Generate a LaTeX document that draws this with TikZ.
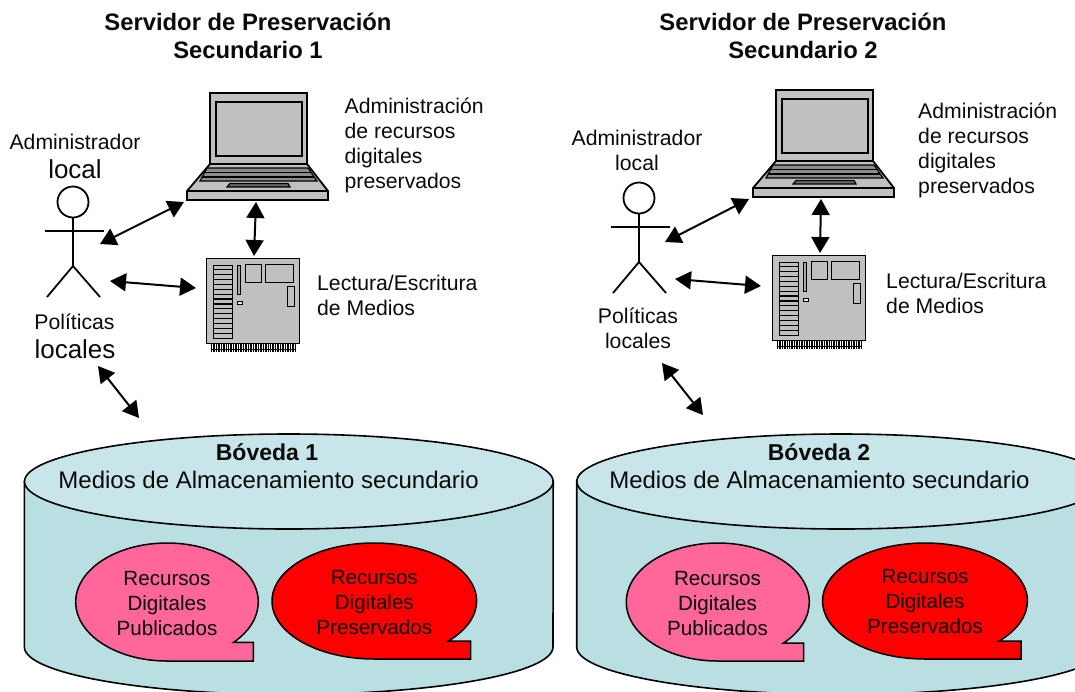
\documentclass[tikz,border=0pt]{standalone}
\usepackage{fontspec}
\setmainfont{Liberation Sans}
\usetikzlibrary{arrows.meta}
\definecolor{cylbody}{HTML}{B9DFE3}
\definecolor{cyltop}{HTML}{C8E6E9}
\definecolor{pinkb}{HTML}{FF6699}
\definecolor{redb}{HTML}{FF0000}
\definecolor{devgray}{HTML}{C0C0C0}
\definecolor{txt}{HTML}{0A0A0A}
\tikzset{
  lbl/.style={inner sep=0pt,align=center,text=txt,font=\fontsize{21.2}{25}\selectfont},
  lblleft/.style={inner sep=0pt,align=left,text=txt,font=\fontsize{21.2}{25}\selectfont},
  lblbig/.style={inner sep=0pt,text=txt,font=\fontsize{26}{28}\selectfont},
  ttl/.style={inner sep=0pt,align=center,text=txt,font=\fontsize{23.8}{28}\selectfont\bfseries},
  vault/.style={inner sep=0pt,text=txt,font=\fontsize{23}{26}\selectfont\bfseries},
  media/.style={inner sep=0pt,text=txt,font=\fontsize{24}{26}\selectfont},
  res/.style={inner sep=0pt,align=center,text=txt,font=\fontsize{20.6}{25}\selectfont},
  dev/.style={draw=black,line width=1.8pt,fill=devgray},
  devthin/.style={draw=black,line width=1pt,fill=devgray},
  stick/.style={draw=black,line width=1.8pt},
  dbl/.style={draw=black,line width=2pt,{Triangle[length=16pt,width=18pt]}-{Triangle[length=16pt,width=18pt]}},
  cyl/.style={draw=black,line width=1.6pt},
  bub/.style={draw=black,line width=1.5pt,line join=miter},
}
\newcommand\laptopdraw[3]{%
 \begin{scope}[shift={(#1,#2)}]
  \coordinate (#3) at (258,146);
  \draw[dev] (210,164) -- (187,191) -- (187,200) -- (328,200) -- (328,191) -- (307,164) -- cycle;
  \draw[dev] (187,191) -- (328,191);
  \draw[dev,line width=2pt] (210,93) rectangle (307,164);
  \draw[dev,line width=2pt] (216,102) rectangle (302,156);
  \draw[draw=black,fill=black!45,line width=1.2pt] (207,168) -- (308,168) -- (317,181) -- (200,181) -- cycle;
  \draw[black,line width=1.3pt] (204,172.5) -- (311,172.5) (202,177) -- (314,177);
  \draw[draw=black,fill=black!60,line width=1.2pt] (230,183.5) -- (288,183.5) -- (290,187) -- (227,187) -- cycle;
 \end{scope}}
\newcommand\serverdraw[3]{%
 \begin{scope}[shift={(#1,#2)}]
  \coordinate (#3) at (252,300);
  \foreach \i in {0,...,50} {\draw[black,line width=.9pt] ({211.5+\i*1.68},343) -- ++(0,9);}
  \draw[black,line width=1pt] (211,349) -- (296,349);
  \draw[devthin] (206,258) rectangle (299,343);
  \draw[devthin,fill=black!25] (213,265) rectangle (232,338);
  \foreach \i in {1,...,14} {\draw[black,line width=1.2pt] (213,{265+\i*4.87}) -- (232,{265+\i*4.87});}
  \draw[devthin,fill=black!35] (237.5,265) rectangle (240.5,294);
  \draw[devthin] (245,264) rectangle (261,282);
  \draw[devthin] (265,264) rectangle (293,282);
  \draw[devthin] (287,286) rectangle (294,306);
  \draw[devthin,fill=white!70!devgray] (237.5,301) rectangle (242,304.5);
 \end{scope}}
\newcommand\stickdraw[3]{%
 \begin{scope}[shift={(#1,#2)}]
  \node[circle,draw=black,line width=1.8pt,minimum size=31pt,inner sep=0pt] (#3) at (73,202) {};
  \coordinate (#3hip) at (73,266);
  \coordinate (#3la) at (45,231); \coordinate (#3ra) at (104,231);
  \coordinate (#3ll) at (47,297); \coordinate (#3rl) at (100,297);
  \draw[stick] (#3.south) -- (#3hip);
  \draw[stick] (#3la) -- (#3ra);
  \draw[stick] (#3ll) -- (#3hip) -- (#3rl);
 \end{scope}}
\newcommand\cyldraw[2]{%
 \begin{scope}[shift={(#1,0)}]
  \coordinate (#2) at (288.8,600);
  \draw[cyl,fill=cylbody] (24.4,481.5) -- (24.4,647) arc[start angle=180,end angle=0,x radius=264.3,y radius=47.5] -- (553.2,481.5) -- cycle;
  \draw[cyl,fill=cyltop] (288.8,481.5) ellipse[x radius=264.3,y radius=47.5];
 \end{scope}}
\newcommand\bubbledraw[7]{%
 \pgfmathsetmacro\tA{360+acos((#5-#1)/#3)}
 \pgfmathsetmacro\yA{#2+#4*sin(\tA)}
 \draw[bub,fill=#7] (#1,{#2+#4}) arc[start angle=90,end angle=\tA,x radius=#3,y radius=#4] -- (#6,\yA) -- (#6,{#2+#4}) -- cycle;}
\begin{document}
\begin{tikzpicture}[x=1pt,y=-1pt]
\path[use as bounding box] (0,0) rectangle (1075,691);
\clip (0,0) rectangle (1075,691);
\fill[white] (0,0) rectangle (1075,691);

% cylinders
\cyldraw{0}{cylA}
\cyldraw{552.3}{cylB}
\bubbledraw{167}{602}{91.3}{59}{233.5}{253.4}{pinkb}
\bubbledraw{374.3}{601}{102.3}{58}{448.3}{470.7}{redb}
\bubbledraw{717.8}{602}{91.5}{59}{783.6}{803.6}{pinkb}
\bubbledraw{925}{601}{102.4}{58}{998.8}{1021.2}{redb}

% devices
\laptopdraw{0}{0}{lapA}
\laptopdraw{566}{-3}{lapB}
\serverdraw{0}{0}{srvA}
\serverdraw{566}{-3}{srvB}
\stickdraw{0}{0}{manA}
\stickdraw{566}{-4}{manB}

% titles
\node[ttl] (t1) at (248,36) {Servidor de Preservación\\Secundario 1};
\node[ttl] (t2) at (803,36) {Servidor de Preservación\\Secundario 2};

% left labels
\node[lbl] (adm1) at (75,142) {Administrador};
\node[lblbig] (loc1) at (75,169.5) {local};
\node[lbl] (pol1) at (74.5,322) {Políticas};
\node[lblbig] (pl1) at (75,349) {locales};
\node[lblleft,anchor=west] (ar1) at (344.5,145.5) {Administración\\de recursos\\digitales\\preservados};
\node[lblleft,anchor=west] (le1) at (317,295.5) {Lectura/Escritura\\de Medios};

% right labels
\node[lbl] (adm2) at (637,150) {Administrador\\local};
\node[lbl,anchor=north] (pol2) at (638,308) {Políticas\\locales};
\node[lblleft,anchor=west] (ar2) at (918,150) {Administración\\de recursos\\digitales\\preservados};
\node[lblleft,anchor=west] (le2) at (886,293.5) {Lectura/Escritura\\de Medios};

% vault labels
\node[vault] (v1) at (267,452) {Bóveda 1};
\node[media] (m1) at (268.6,480) {Medios de Almacenamiento secundario};
\node[vault] (v2) at (819,452) {Bóveda 2};
\node[media] (m2) at (819.4,480) {Medios de Almacenamiento secundario};
\node[res] (r1) at (167,604) {Recursos\\Digitales\\Publicados};
\node[res] (r2) at (374.3,603) {Recursos\\Digitales\\Preservados};
\node[res] (r3) at (717.5,604) {Recursos\\Digitales\\Publicados};
\node[res] (r4) at (925,602) {Recursos\\Digitales\\Preservados};

% connector ends
\coordinate (a1) at (100,244); \coordinate (a2) at (184,202);
\coordinate (b1) at (256,202); \coordinate (b2) at (254,256);
\coordinate (c1) at (110,281); \coordinate (c2) at (196,288);
\coordinate (d1) at (98,366);  \coordinate (d2) at (139,418);
\coordinate (e1) at (665,242); \coordinate (e2) at (749,199);
\coordinate (f1) at (821,199); \coordinate (f2) at (820,253);
\coordinate (g1) at (675,279); \coordinate (g2) at (761,286);
\coordinate (h1) at (662,363); \coordinate (h2) at (703,415);
\draw[dbl] (a1) -- (a2);
\draw[dbl] (b1) -- (b2);
\draw[dbl] (c1) -- (c2);
\draw[dbl] (d1) -- (d2);
\draw[dbl] (e1) -- (e2);
\draw[dbl] (f1) -- (f2);
\draw[dbl] (g1) -- (g2);
\draw[dbl] (h1) -- (h2);
\end{tikzpicture}
\end{document}
